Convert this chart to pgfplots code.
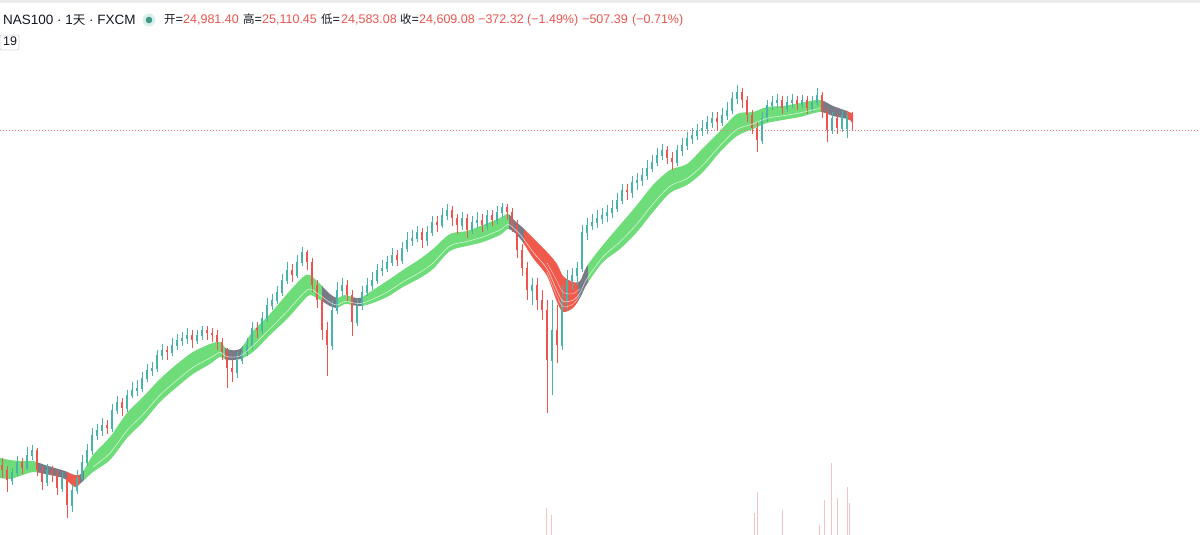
\documentclass[border=0pt]{standalone}
\usepackage{pgfplots}
\pgfplotsset{compat=1.18}
\usepackage{pgfplotstable}
\usepgfplotslibrary{fillbetween}
\usepackage{fontspec}
\setmainfont{Liberation Sans}
\newfontfamily\cjk{Noto Sans CJK SC}
\definecolor{upc}{HTML}{26A69A}
\definecolor{dnc}{HTML}{EF5350}
\definecolor{rgreen}{HTML}{6EDC78}
\definecolor{rgray}{HTML}{787B86}
\definecolor{rred}{HTML}{EF5A4C}
\definecolor{txt}{HTML}{131722}
\definecolor{valred}{HTML}{E8554D}
\definecolor{volc}{HTML}{F4C4C4}
\definecolor{dotc}{HTML}{3D9A84}

\pgfplotstableread{
x o c h l
2 465 470 458 478
7 470 480 466 492
12 480 472 468 485
17 472 462 456 476
22 462 468 458 474
27 468 455 447 470
32 455 450 445 460
37 450 470 448 476
42 470 482 466 490
47 482 470 464 486
52 470 475 466 482
57 475 488 470 495
62 488 478 472 492
67 478 505 474 518
72 505 490 484 512
77 490 478 470 494
82 478 462 455 482
87 462 450 444 466
92 450 435 428 455
97 435 430 424 440
102 430 425 418 436
107 425 428 420 434
112 428 410 404 432
117 410 402 396 414
122 402 408 398 416
127 408 395 390 412
132 395 390 382 398
137 390 388 380 396
142 388 378 372 392
147 378 370 364 382
152 370 368 362 376
157 368 355 350 372
162 355 350 344 360
167 350 352 346 360
172 352 345 338 356
177 345 340 334 350
182 340 338 332 346
187 338 335 328 344
192 335 340 330 348
197 340 335 330 344
202 335 330 326 340
207 330 333 326 340
212 333 335 328 342
217 335 342 330 350
222 342 352 338 360
227 352 368 348 388
232 368 372 360 382
237 372 360 352 378
242 360 352 346 364
247 352 345 338 356
252 345 328 322 350
257 328 330 322 338
262 330 318 312 334
267 318 305 298 322
272 305 300 294 310
277 300 292 286 304
282 292 280 274 296
287 280 270 262 284
292 270 275 264 282
297 275 262 255 278
302 262 252 247 266
307 252 262 250 270
312 262 285 258 292
317 285 300 280 308
322 300 330 296 340
327 330 345 322 376
332 345 310 300 350
337 310 290 282 314
342 290 285 278 296
347 285 295 280 302
352 295 322 290 336
357 322 305 298 326
362 305 292 286 310
367 292 285 278 296
372 285 280 272 290
377 280 270 264 284
382 270 268 260 276
387 268 262 256 272
392 262 255 248 266
397 255 260 250 266
402 260 248 242 264
407 248 240 232 252
412 240 238 230 246
417 238 232 226 242
422 232 240 228 248
427 240 232 226 246
432 232 222 216 236
437 222 225 216 232
442 225 215 208 228
447 215 210 204 220
452 210 218 206 226
457 218 225 214 234
462 225 218 212 230
467 218 230 214 238
472 230 222 216 234
477 222 220 212 228
482 220 225 214 232
487 225 215 210 230
492 215 220 210 226
497 220 212 206 224
502 212 207 203 218
507 207 212 204 220
512 212 225 208 232
517 225 250 220 258
522 250 268 244 276
527 268 290 262 300
532 290 285 278 305
537 285 300 278 310
542 300 310 290 320
547 310 360 300 413
552 360 330 300 395
557 330 345 305 363
562 345 300 285 350
567 300 280 270 310
572 280 275 268 290
577 275 268 262 285
582 268 232 225 272
587 232 225 218 240
592 225 222 214 230
597 222 218 210 228
602 218 215 208 224
607 215 212 205 222
612 212 208 200 218
617 208 200 193 212
622 200 190 184 204
627 190 192 184 200
632 192 182 176 198
637 182 180 173 190
642 180 175 168 186
647 175 168 160 180
652 168 162 155 172
657 162 155 148 166
662 155 150 144 160
667 150 158 146 164
672 158 162 152 170
677 162 150 145 166
682 150 145 138 156
687 145 138 132 150
692 138 135 128 144
697 135 130 124 140
702 130 128 120 136
707 128 122 116 134
712 122 118 112 128
717 118 122 112 130
722 122 115 108 126
727 115 110 102 120
732 110 98 92 114
737 98 92 85 104
742 92 100 88 108
747 100 115 96 122
752 115 128 110 134
757 128 140 122 152
762 140 118 112 144
767 118 105 100 122
772 105 102 96 110
777 102 100 94 108
782 100 108 96 114
787 108 102 96 112
792 102 100 94 108
797 100 104 96 110
802 104 100 95 108
807 100 108 96 114
812 108 102 96 112
817 102 95 88 106
822 95 112 92 118
827 112 130 108 142
832 130 118 112 134
837 118 128 114 134
842 128 115 110 132
847 128 116 112 138
852 116 122 112 130
}\candles

\pgfplotstableread{
x u l
0 458 478
10 460 479
20 461 476
33 461 472
45 465 474
55 468 476
65 471 479
75 475 487
82 473 482
93 455 472
110 437 460
127 413 438
143 397 422
160 379 402
177 364 387
193 352 374
210 344 364
220 342 357
227 349 360
240 349 359
253 331 352
270 314 335
287 294 319
303 277 301
310 275 295
320 284 300
330 294 306
337 298 308
345 295 304
352 297 305
360 298 306
370 292 304
387 281 297
403 270 287
420 259 278
433 249 269
450 234 251
467 231 246
483 225 242
500 218 235
508 214 229
515 221 233
522 227 241
533 238 258
547 252 276
557 264 302
563 276 312
573 282 308
580 281 298
587 266 284
603 245 262
620 225 249
637 205 232
653 185 212
670 170 193
687 164 185
703 148 172
720 131 152
737 114 136
753 112 129
767 107 123
783 106 120
800 103 117
820 100 112
833 106 116
847 111 119
853 114 122
}\rib

\pgfplotstableread{
x t
546 508
551 515
754 513
757 492
782 510
819 525
824 500
831 463
837 498
847 487
849 503
}\vol

\begin{document}
\begin{tikzpicture}
\begin{axis}[
  width=1200pt, height=535pt, scale only axis,
  xmin=0, xmax=1200, ymin=0, ymax=535, y dir=reverse,
  axis lines=none, clip=true,
]
% top bar
\addplot[draw=none, fill=black!8, forget plot] coordinates {(0,0) (1200,0) (1200,3.5) (0,3.5)} -- cycle;
% volume
\addplot[draw=none, mark=none, forget plot, error bars/.cd, y dir=plus, y explicit, error mark=none,
  error bar style={draw=volc, line width=0.8pt}]
  table[x=x, y=t, y error plus expr=535-\thisrow{t}]{\vol};
% price line
\addplot[dnc!80, line width=0.8pt, dash pattern=on 1pt off 2pt, forget plot] coordinates {(0,130) (1200,130)};
% up candles
\addplot[draw=none, mark=none, forget plot, restrict expr to domain={\thisrow{c}-\thisrow{o}}{-1000:0},
  error bars/.cd, y dir=plus, y explicit, error mark=none, error bar style={draw=upc!85, line width=0.7pt}]
  table[x=x, y=h, y error plus expr=\thisrow{l}-\thisrow{h}]{\candles};
\addplot[draw=none, mark=none, forget plot, restrict expr to domain={\thisrow{c}-\thisrow{o}}{-1000:0},
  error bars/.cd, y dir=plus, y explicit, error mark=none, error bar style={draw=upc!85, line width=2.4pt}]
  table[x=x, y=c, y error plus expr=\thisrow{o}-\thisrow{c}+0.8]{\candles};
% down candles
\addplot[draw=none, mark=none, forget plot, restrict expr to domain={\thisrow{c}-\thisrow{o}}{0.01:1000},
  error bars/.cd, y dir=plus, y explicit, error mark=none, error bar style={draw=dnc, line width=0.7pt}]
  table[x=x, y=h, y error plus expr=\thisrow{l}-\thisrow{h}]{\candles};
\addplot[draw=none, mark=none, forget plot, restrict expr to domain={\thisrow{c}-\thisrow{o}}{0.01:1000},
  error bars/.cd, y dir=plus, y explicit, error mark=none, error bar style={draw=dnc, line width=2.4pt}]
  table[x=x, y=o, y error plus expr=\thisrow{c}-\thisrow{o}]{\candles};
% ribbon
\addplot[name path=U, draw=none, smooth, forget plot] table[x=x, y=u]{\rib};
\addplot[name path=L, draw=none, smooth, forget plot] table[x=x, y=l]{\rib};
\addplot[rgreen, forget plot] fill between[of=U and L, soft clip={domain=0:37}];
\addplot[rgray, forget plot] fill between[of=U and L, soft clip={domain=37:67}];
\addplot[rred, forget plot] fill between[of=U and L, soft clip={domain=67:80}];
\addplot[rgray, forget plot] fill between[of=U and L, soft clip={domain=80:84}];
\addplot[rgreen, forget plot] fill between[of=U and L, soft clip={domain=84:225}];
\addplot[rgray, forget plot] fill between[of=U and L, soft clip={domain=225:242}];
\addplot[rgreen, forget plot] fill between[of=U and L, soft clip={domain=242:322}];
\addplot[rgray, forget plot] fill between[of=U and L, soft clip={domain=322:338}];
\addplot[rgreen, forget plot] fill between[of=U and L, soft clip={domain=338:352}];
\addplot[rgray, forget plot] fill between[of=U and L, soft clip={domain=352:363}];
\addplot[rgreen, forget plot] fill between[of=U and L, soft clip={domain=363:509}];
\addplot[rgray, forget plot] fill between[of=U and L, soft clip={domain=509:524}];
\addplot[rred, forget plot] fill between[of=U and L, soft clip={domain=524:578}];
\addplot[rgray, forget plot] fill between[of=U and L, soft clip={domain=578:588}];
\addplot[rgreen, forget plot] fill between[of=U and L, soft clip={domain=588:822}];
\addplot[rgray, forget plot] fill between[of=U and L, soft clip={domain=822:846}];
\addplot[rred, forget plot] fill between[of=U and L, soft clip={domain=846:853}];
\addplot[white, line width=0.6pt, smooth, opacity=0.7, forget plot, restrict x to domain=90:820] table[x=x, y expr=0.3*\thisrow{u}+0.7*\thisrow{l}]{\rib};
\addplot[white, line width=0.5pt, smooth, opacity=0.6, forget plot, restrict x to domain=540:580] table[x=x, y expr=0.55*\thisrow{u}+0.45*\thisrow{l}]{\rib};
\addplot[white, line width=0.5pt, smooth, opacity=0.6, forget plot, restrict x to domain=540:580] table[x=x, y expr=0.15*\thisrow{u}+0.85*\thisrow{l}]{\rib};
% header
\node[anchor=base west, font=\fontsize{13.5}{16}\selectfont, text=txt, inner sep=0] at (axis cs:3,25) {NAS100 · 1{\cjk\fontsize{12.5}{15}\selectfont 天} · FXCM};
\fill[upc!18] (axis cs:149,20) circle[radius=6.5pt];
\fill[dotc] (axis cs:149,20) circle[radius=3.3pt];
\begin{scope}[every node/.style={anchor=base west, inner sep=0, font=\fontsize{12.5}{15}\selectfont}]
\node[text=txt] at (axis cs:164,24) {{\cjk\fontsize{11.5}{14}\selectfont 开}=};
\node[text=valred] at (axis cs:183,24) {24,981.40};
\node[text=txt] at (axis cs:243,24) {{\cjk\fontsize{11.5}{14}\selectfont 高}=};
\node[text=valred] at (axis cs:262,24) {25,110.45};
\node[text=txt] at (axis cs:321,24) {{\cjk\fontsize{11.5}{14}\selectfont 低}=};
\node[text=valred] at (axis cs:341,24) {24,583.08};
\node[text=txt] at (axis cs:400,24) {{\cjk\fontsize{11.5}{14}\selectfont 收}=};
\node[text=valred] at (axis cs:419,24) {24,609.08};
\node[text=valred] at (axis cs:478,24) {−372.32};
\node[text=valred] at (axis cs:527,24) {(−1.49\%)};
\node[text=valred] at (axis cs:582,24) {−507.39};
\node[text=valred] at (axis cs:632,24) {(−0.71\%)};
\node[text=txt] at (axis cs:3,46) {19};
\end{scope}
\draw[black!15, rounded corners=2pt, line width=0.8pt] (axis cs:0,35) rectangle (axis cs:19,50);
\end{axis}
\path (current axis.south west) rectangle (current axis.north east);
\end{tikzpicture}
\end{document}
